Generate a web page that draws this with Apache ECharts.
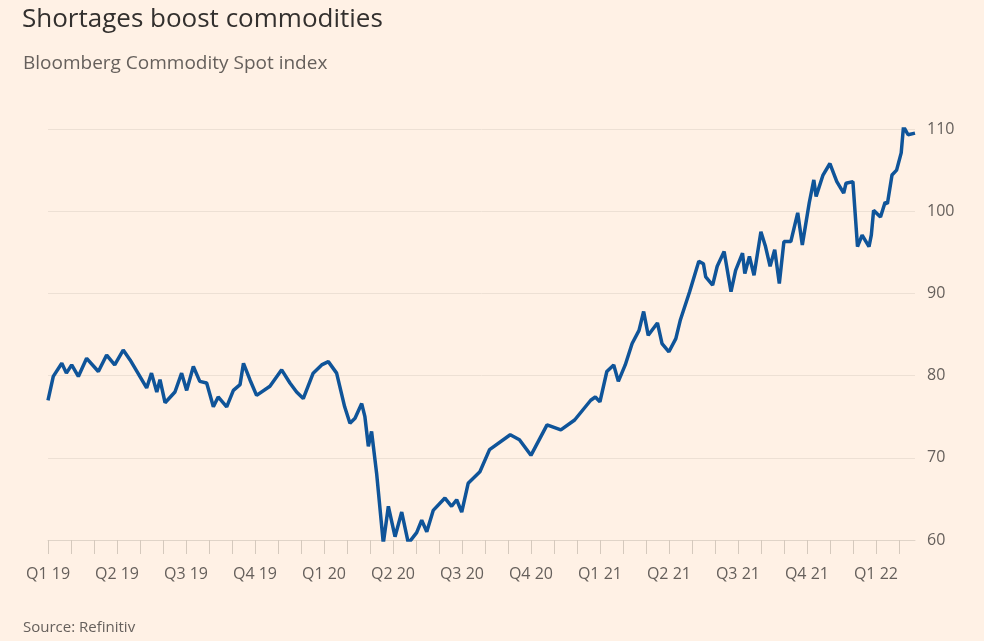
<!DOCTYPE html>
<html lang="en">
<head>
    <meta charset="UTF-8">
    <title>Shortages boost commodities</title>
    <script src="https://cdn.jsdelivr.net/npm/echarts@6.0.0/dist/echarts.min.js"></script>
    <style>
        html, body { margin: 0; padding: 0; background: #fff1e5; }
        #chart { width: 984px; height: 641px; }
    </style>
</head>
<body>
    <div id="chart"></div>
    <script>
        // months since start of 2019
        var months = [0, .23, .6, .8, 1.03, 1.32, 1.68, 2.19, 2.55, 2.9, 3.27, 3.57, 4.29, 4.5, 4.73, 4.87, 5.09, 5.52, 5.81, 6.03,
            6.32, 6.6, 6.9, 7.19, 7.4, 7.77, 8.06, 8.35, 8.5, 8.78, 9.07, 9.65, 10.16, 10.52, 10.81, 11.1, 11.53, 11.9, 12.19, 12.55,
            12.9, 13.13, 13.35, 13.64, 13.78, 13.93, 14.07, 14.29, 14.58, 14.8, 15.09, 15.38, 15.67, 16.03, 16.25, 16.47, 16.75, 17.26, 17.55, 17.77,
            17.99, 18.27, 18.78, 19.2, 20.1, 20.5, 21.0, 21.7, 22.3, 22.9, 23.6, 23.8, 24.0, 24.3, 24.6, 24.8, 25.1, 25.4, 25.7, 25.9,
            26.1, 26.5, 26.7, 27.0, 27.3, 27.5, 27.9, 28.3, 28.5, 28.6, 28.9, 29.1, 29.4, 29.7, 29.9, 30.2, 30.3, 30.5, 30.7, 31.0,
            31.2, 31.4, 31.6, 31.8, 32.0, 32.3, 32.6, 32.8, 33.1, 33.3, 33.4, 33.7, 34.0, 34.3, 34.6, 34.7, 35.0, 35.2, 35.4, 35.7,
            35.8, 35.9, 36.2, 36.4, 36.5, 36.7, 36.9, 37.1, 37.2, 37.4, 37.7];
        var index = [77.0, 79.9, 81.5, 80.3, 81.3, 79.9, 82.1, 80.5, 82.5, 81.3, 83.1, 81.9, 78.5, 80.3, 78.0, 79.5, 76.7, 78.0, 80.3, 78.2,
            81.1, 79.3, 79.1, 76.2, 77.4, 76.2, 78.2, 78.9, 81.5, 79.5, 77.6, 78.7, 80.7, 79.1, 78.0, 77.2, 80.3, 81.3, 81.7, 80.3,
            76.2, 74.2, 74.8, 76.6, 75.0, 71.4, 73.2, 68.1, 59.6, 64.1, 60.4, 63.4, 59.6, 60.9, 62.4, 61.0, 63.6, 65.1, 64.1, 64.9,
            63.4, 66.9, 68.3, 71.0, 72.8, 72.2, 70.3, 74.0, 73.4, 74.6, 77.0, 77.4, 76.8, 80.5, 81.3, 79.3, 81.3, 83.9, 85.5, 87.8,
            84.9, 86.4, 83.9, 82.9, 84.5, 86.8, 90.2, 93.9, 93.6, 92.0, 91.0, 93.3, 95.1, 90.2, 92.8, 94.9, 92.4, 94.5, 92.2, 97.5,
            95.7, 93.3, 95.3, 91.2, 96.3, 96.3, 99.8, 95.9, 101.0, 103.8, 101.8, 104.4, 105.8, 103.6, 102.2, 103.4, 103.6, 95.7, 97.1, 95.7,
            97.1, 100.1, 99.3, 101.1, 100.9, 104.4, 105.0, 107.1, 110.3, 109.3, 109.5];
        var quarterLabels = ['Q1 19', 'Q2 19', 'Q3 19', 'Q4 19', 'Q1 20', 'Q2 20', 'Q3 20', 'Q4 20',
            'Q1 21', 'Q2 21', 'Q3 21', 'Q4 21', 'Q1 22'];

        var chart = echarts.init(document.getElementById('chart'));
        var font = '"Open Sans", "Noto Sans", sans-serif';

        chart.setOption({
            backgroundColor: '#fff1e5',
            animation: false,
            textStyle: { fontFamily: font },
            title: [
                { text: 'Shortages boost commodities', left: 17, top: 2, textStyle: { fontSize: 26, fontWeight: 'normal', color: '#33302e', fontFamily: font } },
                { text: 'Bloomberg Commodity Spot index', left: 18, top: 49, textStyle: { fontSize: 19, fontWeight: 'normal', color: '#66605c', fontFamily: font } },
                { text: 'Source: Refinitiv', left: 18, top: 615, textStyle: { fontSize: 15, fontWeight: 'normal', color: '#66605c', fontFamily: font } }
            ],
            grid: { left: 48, right: 69, top: 129, bottom: 101 },
            xAxis: {
                type: 'value', min: 0, max: 37.7, interval: 1,
                splitLine: { show: false },
                axisLine: { lineStyle: { color: '#e0d4c8' } },
                axisTick: { show: true, length: 14, lineStyle: { color: '#d5c9bd' } },
                axisLabel: {
                    margin: 26, fontSize: 16, color: '#66605c', showMaxLabel: false,
                    formatter: function (v) { return v % 3 === 0 ? (quarterLabels[v / 3] || '') : ''; }
                }
            },
            yAxis: {
                type: 'value', position: 'right', min: 60, max: 110, interval: 10,
                axisLine: { show: false }, axisTick: { show: false },
                splitLine: { lineStyle: { color: '#ede0d4' } },
                axisLabel: { margin: 12, fontSize: 16, color: '#66605c' }
            },
            series: [{
                type: 'line',
                data: months.map(function (m, i) { return [m, index[i]]; }),
                showSymbol: false,
                lineStyle: { color: '#0f5499', width: 3.5 }
            }]
        });
    </script>
</body>
</html>
